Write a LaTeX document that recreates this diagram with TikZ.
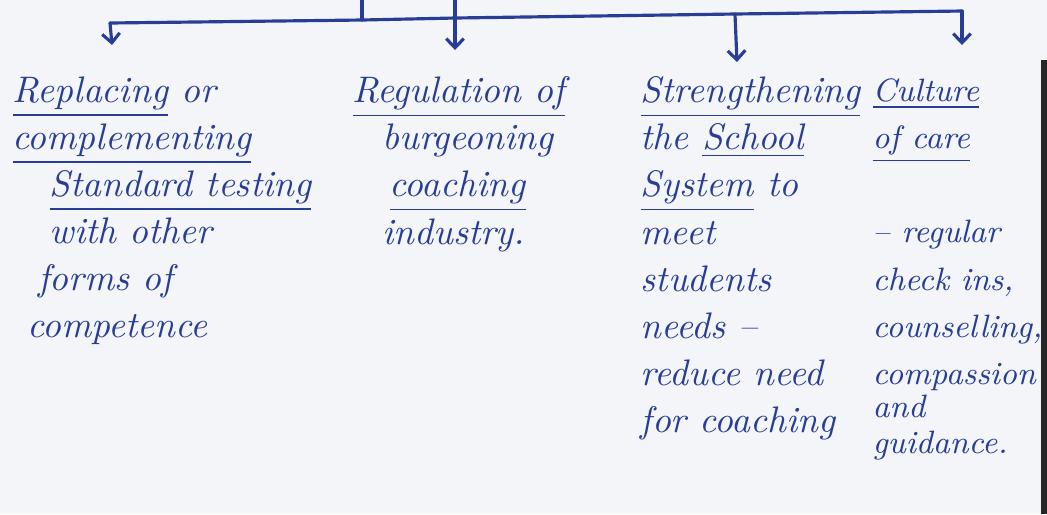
\documentclass[tikz,border=0pt]{standalone}
\usetikzlibrary{arrows.meta,positioning}
\definecolor{inkblue}{RGB}{40,62,150}
\definecolor{paper}{RGB}{244,245,248}
\tikzset{
  ink/.style={draw=inkblue,line width=0.9pt,line cap=round,line join=round},
  drop/.style={ink,-{Straight Barb[length=2.6pt,width=5pt]}},
  col/.style={anchor=north west,align=left,inner sep=0pt,text=inkblue,
    font=\fontsize{10.5}{13.4}\selectfont\itshape},
}
\begin{document}
\begin{tikzpicture}[x=0.01cm,y=-0.01cm]
  \fill[paper] (0,0) rectangle (1047,514);
  \useasboundingbox (0,0) rectangle (1047,514);
  \fill[black!85] (1041,60) rectangle (1047,514);
  % branching bar
  \coordinate (stem) at (362,0);
  \coordinate (j0) at (362,20);
  \coordinate (top) at (455,0);
  \coordinate (b1) at (110,23);
  \coordinate (b2) at (455,18);
  \coordinate (b3) at (735,14);
  \coordinate (b4) at (962,11);
  \coordinate (t1) at (112,45);
  \coordinate (t2) at (455,50);
  \coordinate (t3) at (737,62);
  \coordinate (t4) at (962,45);
  \draw[ink] (stem) -- (j0);
  \draw[ink] (b1) -- (j0) -- (b2) -- (b3) -- (b4);
  \draw[drop] (b1) -- (t1);
  \draw[drop] (top) -- (t2);
  \draw[drop] (b3) -- (t3);
  \draw[drop] (b4) -- (t4);
  % the four branches
  \node[col] (testing) at (12,76) {\underline{Replacing} or\\
    \underline{complementing}\\
    \hspace*{1em}\underline{Standard testing}\\
    \hspace*{1em}with other\\
    \hspace*{0.7em}forms of\\
    \hspace*{0.4em}competence};
  \node[col] (coaching) at (352,76) {\underline{Regulation of}\\
    \hspace*{0.8em}burgeoning\\
    \hspace*{1em}\underline{coaching}\\
    \hspace*{0.8em}industry.};
  \node[col] (school) at (640,76) {\underline{Strengthening}\\
    the \underline{School}\\
    \underline{System} to\\
    meet\\
    students\\
    needs --\\
    reduce need\\
    for coaching};
  \node[col,font=\fontsize{9.2}{13.4}\selectfont\itshape] (care) at (872,78) {\underline{Culture}\\
    \underline{of care}\\[13.4pt]
    -- regular\\
    check ins,\\
    counselling,\\
    compassion\\[-4pt]
    and\\[-3pt]
    guidance.};
\end{tikzpicture}
\end{document}
